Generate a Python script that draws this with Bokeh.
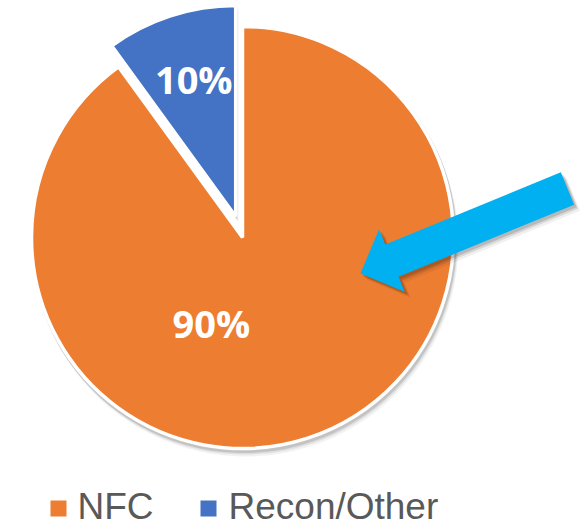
import numpy as np
from bokeh.plotting import figure
from bokeh.models import Range1d
from bokeh.core.properties import value
from bokeh.embed import file_html
from bokeh.resources import INLINE

# ---- data ----
categories = ["NFC", "Recon/Other"]
shares = [90, 10]
labels = ["90%", "10%"]
colors = ["#ED7D31", "#4472C4"]

# ---- layout (page pixel coordinates; data y = 527 - screen y) ----
PAGE_W, PAGE_H = 585, 527
CX, CY = 242, PAGE_H - 237
R = 211
EXPLODE = {"NFC": 0, "Recon/Other": 22}
LABEL_POS = {"NFC": (0.43, 250), "Recon/Other": (0.68, 107)}
ARROW_TAIL = (567, PAGE_H - 188)
ARROW_TIP = (360, PAGE_H - 273)
ARROW_SHAFT_W, ARROW_HEAD_W, ARROW_HEAD_L = 35, 68, 34

p = figure(width=PAGE_W, height=PAGE_H, x_range=Range1d(0, PAGE_W), y_range=Range1d(0, PAGE_H),
           output_backend="svg", toolbar_location=None, min_border=0)
p.axis.visible = False
p.grid.visible = False
p.outline_line_color = None
p.background_fill_color = "white"

# wedge geometry
total = float(sum(shares))
cum = np.cumsum([0] + shares) / total * 360.0
starts = [np.radians(90 - cum[i + 1]) for i in range(len(shares))]
ends = [np.radians(90 - cum[i]) for i in range(len(shares))]
xs, ys = [], []
for i, c in enumerate(categories):
    mid = (starts[i] + ends[i]) / 2
    d = EXPLODE[c]
    xs.append(CX + d * np.cos(mid))
    ys.append(CY + d * np.sin(mid))

# soft shadows
for off, a in [(6, 0.05), (4, 0.08), (2.5, 0.12)]:
    p.wedge(x=[x + off * 0.5 for x in xs], y=[y - off for y in ys], radius=R + 2,
            start_angle=starts, end_angle=ends, fill_color="black", fill_alpha=a,
            line_color=None)

p.wedge(x=xs, y=ys, radius=R, start_angle=starts, end_angle=ends,
        fill_color=colors, line_color="white", line_width=3.5)

# labels
lx, ly = [], []
for i, c in enumerate(categories):
    f, ang = LABEL_POS[c]
    lx.append(xs[i] + f * R * np.cos(np.radians(ang)))
    ly.append(ys[i] + f * R * np.sin(np.radians(ang)))
p.text(x=lx, y=ly, text=labels, text_color="white", text_font=value("Open Sans"),
       text_font_style="bold", text_font_size="38px", text_align="center",
       text_baseline="middle")

# arrow
tail = np.array(ARROW_TAIL, float)
tip = np.array(ARROW_TIP, float)
u = (tip - tail) / np.linalg.norm(tip - tail)
n = np.array([-u[1], u[0]])
neck = tip - u * ARROW_HEAD_L
pts = [tail + n * ARROW_SHAFT_W / 2, neck + n * ARROW_SHAFT_W / 2, neck + n * ARROW_HEAD_W / 2,
       tip, neck - n * ARROW_HEAD_W / 2, neck - n * ARROW_SHAFT_W / 2, tail - n * ARROW_SHAFT_W / 2]
ax = [q[0] for q in pts]
ay = [q[1] for q in pts]
for off, a in [(6, 0.06), (4, 0.1), (2.5, 0.14)]:
    p.patch([x + off for x in ax], [y - off for y in ay], fill_color="black",
            fill_alpha=a, line_color=None)
p.patch(ax, ay, fill_color="#00B0F0", line_color=None)

# legend
LEG_SQ_Y = PAGE_H - 508
LEG_TXT_Y = PAGE_H - 506
LEG_SQ_X = [58, 208]
LEG_TXT_X = [77, 228]
p.scatter(x=LEG_SQ_X, y=[LEG_SQ_Y] * 2, marker="square", size=16, fill_color=colors,
          line_color=None)
p.text(x=LEG_TXT_X, y=[LEG_TXT_Y] * 2, text=categories, text_color="#595959",
       text_font=value("Liberation Sans"), text_font_size="37px",
       text_baseline="middle", text_align="left")

open("out.html", "w").write(file_html(p, INLINE))
